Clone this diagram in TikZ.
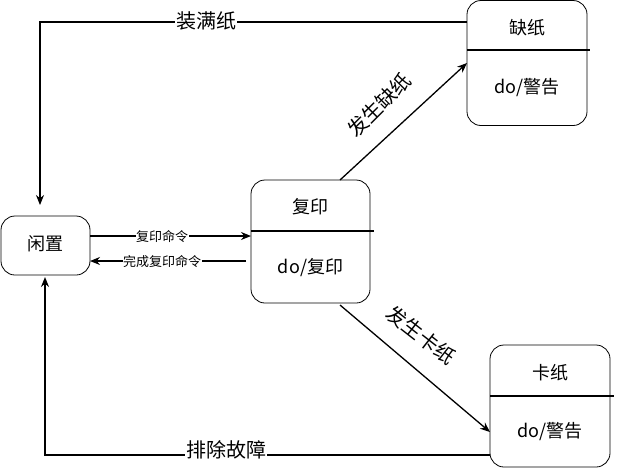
\documentclass[tikz,border=0pt]{standalone}
\usepackage{fontspec}
\newfontfamily\cjk{Noto Sans CJK SC}
\usetikzlibrary{arrows.meta}
\tikzset{
  statebox/.style={draw, rounded corners=14pt, line width=0.8pt, inner sep=0pt},
  divider/.style={line width=1.3pt},
  txt/.style={font=\cjk\fontsize{18}{20}\selectfont, inner sep=0pt},
  arr/.style={line width=1.3pt, -{Stealth[length=10pt,width=8pt]}},
  biglabel/.style={font=\cjk\fontsize{20}{22}\selectfont, fill=white, inner sep=1pt},
  smalllabel/.style={font=\cjk\fontsize{13}{15}\selectfont, fill=white, inner sep=0.5pt},
}
\begin{document}
\begin{tikzpicture}[x=1pt,y=-1pt]
\useasboundingbox (0,0) rectangle (617,472);
% states
\node[statebox, minimum width=89pt, minimum height=59pt] (idle) at (45.5,245.5) {};
\node[txt] (idlet) at (45.5,244) {闲置};

\node[statebox, minimum width=119pt, minimum height=123pt] (copy) at (310.5,241.5) {};
\node[txt] (copyt) at (310.5,207) {复印};
\node[txt] (copyd) at (310.5,268) {do/复印};
\draw[divider] (251,231) -- (374,231);

\node[statebox, minimum width=120pt, minimum height=125pt] (qz) at (527,63) {};
\node[txt] (qzt) at (527,28) {缺纸};
\node[txt] (qzd) at (527,88) {do/警告};
\draw[divider] (467,50) -- (590,50);

\node[statebox, minimum width=120pt, minimum height=122pt] (kz) at (550,406) {};
\node[txt] (kzt) at (550,373) {卡纸};
\node[txt] (kzd) at (550,432) {do/警告};
\draw[divider] (490,396) -- (614,396);

% connector end points
\coordinate (fullsrc) at (467,22);
\coordinate (idletop) at (40,205);
\coordinate (clrsrc) at (490,455);
\coordinate (idlebot) at (45,277);
\coordinate (cmdsrc) at (90,236);
\coordinate (cmddst) at (251,236);
\coordinate (donesrc) at (246,261);
\coordinate (donedst) at (90,261);
\coordinate (qzsrc) at (340,180);
\coordinate (qzdst) at (467,63);
\coordinate (kzsrc) at (340,305);
\coordinate (kzdst) at (490,432);

% connectors
\draw[arr] (fullsrc) -| (idletop);
\node[biglabel] (lfull) at (206,21) {装满纸};
\draw[arr] (clrsrc) -| (idlebot);
\node[biglabel] (lclr) at (226,450) {排除故障};
\draw[arr] (cmdsrc) -- (cmddst);
\node[smalllabel] (lcmd) at (162,237) {复印命令};
\draw[arr] (donesrc) -- (donedst);
\node[smalllabel] (ldone) at (162,262) {完成复印命令};
\draw[arr] (qzsrc) -- (qzdst);
\node[biglabel, fill=none, rotate=45] (lqz) at (379,105) {发生缺纸};
\draw[arr] (kzsrc) -- (kzdst);
\node[biglabel, fill=none, rotate=-38] (lkz) at (421,335) {发生卡纸};
\end{tikzpicture}
\end{document}
